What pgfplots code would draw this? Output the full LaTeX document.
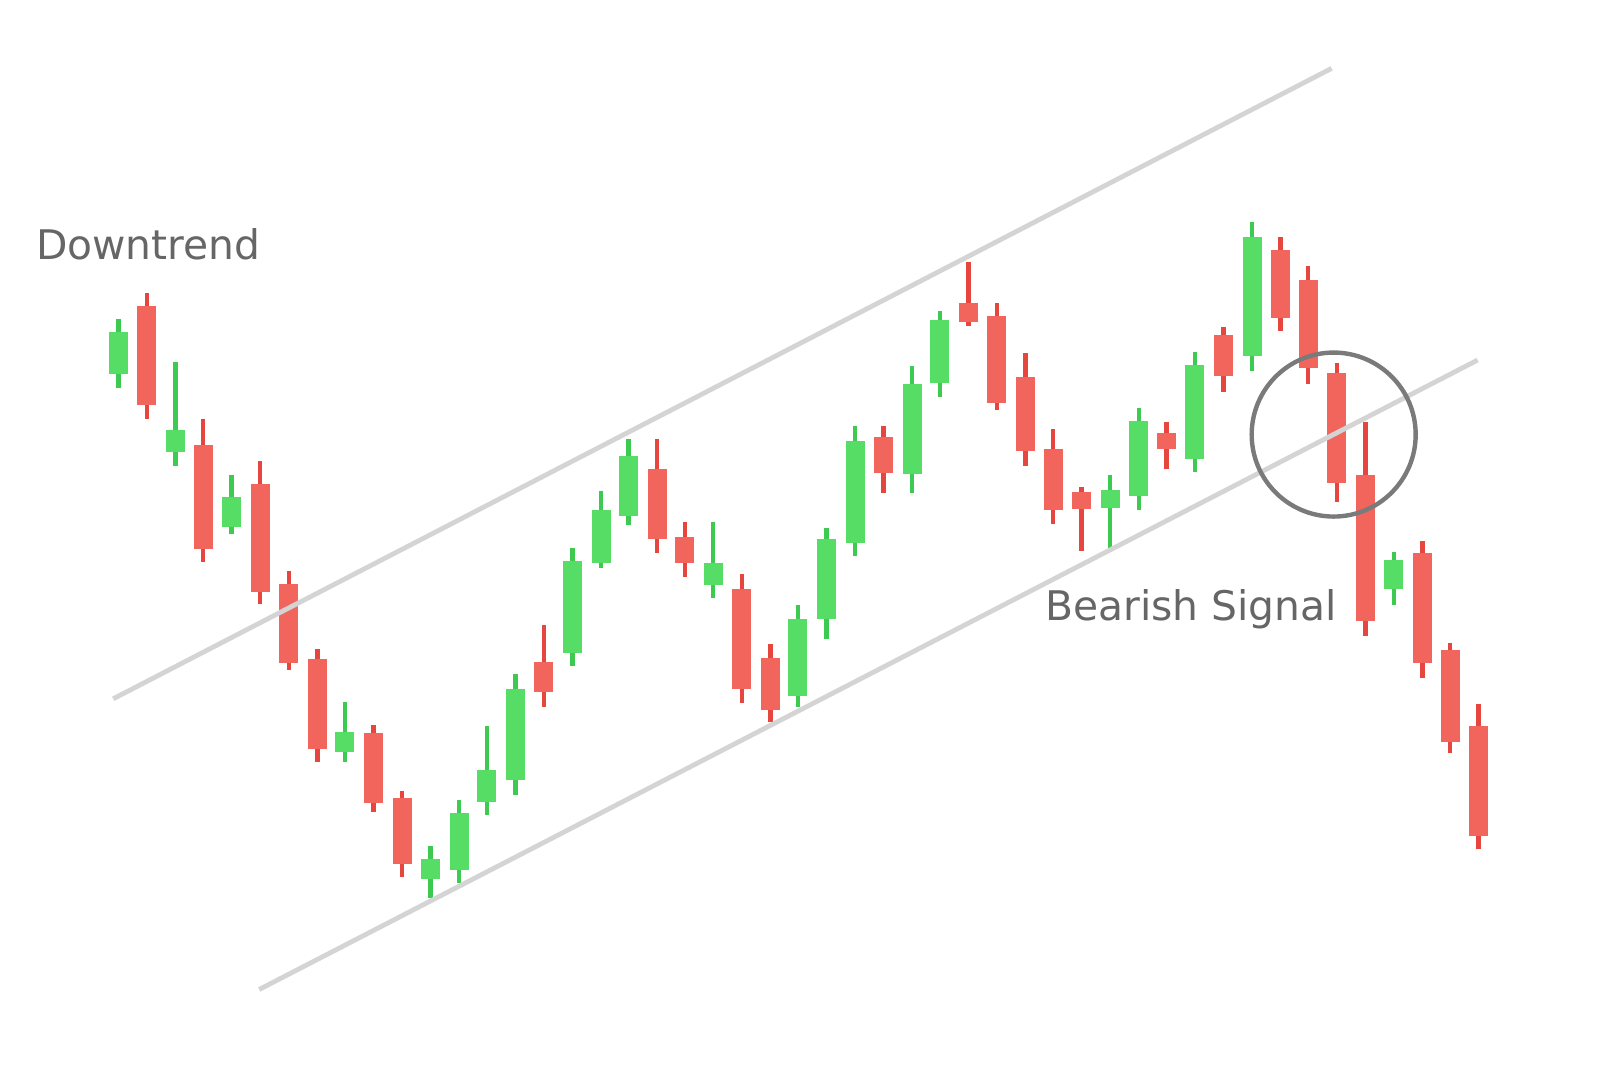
\documentclass[border=0pt]{standalone}
\usepackage{pgfplots}
\pgfplotsset{compat=1.18}
\usepackage{pgfplotstable}
\usepackage{fontspec}
\setmainfont{DejaVu Sans}

\definecolor{upbody}{HTML}{55DD66}
\definecolor{upwick}{HTML}{3CCB50}
\definecolor{dnbody}{HTML}{F2655C}
\definecolor{dnwick}{HTML}{E6463D}
\definecolor{chan}{HTML}{D4D4D4}
\definecolor{txt}{HTML}{666666}

% candles in picture units (y grows downwards): wick top/bottom, body top/bottom
\pgfplotstableread{
x    wt   wb   bt   bb
116  313  380  325  367
172  355  457  422  443
227  466  523  487  517
338  688  747  718  737
422  829  880  842  862
450  784  866  797  853
477  712  799  755  786
505  661  779  675  765
561  537  653  550  640
589  481  557  500  552
616  430  515  447  506
699  512  586  552  573
782  593  693  607  682
810  518  626  528  607
838  418  545  432  532
894  359  483  376  465
921  305  389  314  375
1088 466  537  480  498
1116 400  500  413  486
1171 345  463  358  450
1227 218  364  232  349
1366 541  593  549  577
}\up

\pgfplotstableread{
x    wt   wb   bt   bb
144  287  411  300  397
199  411  551  436  538
255  452  592  474  580
283  560  657  572  650
311  636  747  646  734
366  711  796  719  787
394  775  860  782  847
533  613  693  649  678
644  430  542  460  528
671  512  566  526  552
727  563  689  577  675
755  631  708  645  696
866  418  483  428  464
949  257  320  297  316
977  297  402  310  395
1005 346  457  370  442
1032 421  514  440  500
1060 477  540  482  499
1143 414  460  424  440
1199 321  384  328  369
1255 232  324  245  312
1282 261  376  274  361
1310 356  492  366  473
1338 414  623  466  609
1394 530  665  542  650
1421 630  738  637  727
1449 690  832  712  820
}\down

\pgfplotsset{
  wick/.style={draw=none, mark=none,
    error bars/.cd, y dir=both, y explicit, error mark=none,
    error bar style={line width=2.2pt, draw=#1}},
  body/.style={draw=none, mark=none,
    error bars/.cd, y dir=both, y explicit, error mark=none,
    error bar style={line width=9.5pt, draw=#1}},
}

\begin{document}
\begin{tikzpicture}
\begin{axis}[
  name=ax,
  width=800pt, height=533pt, scale only axis,
  xmin=0, xmax=1568, ymin=0, ymax=1045,
  y dir=reverse,
  hide axis, clip=false,
]
% wicks
\addplot[wick=upwick] table[x=x, y expr={(\thisrow{wt}+\thisrow{wb})/2},
  y error plus expr={(\thisrow{wb}-\thisrow{wt})/2},
  y error minus expr={(\thisrow{wb}-\thisrow{wt})/2}] {\up};
\addplot[wick=dnwick] table[x=x, y expr={(\thisrow{wt}+\thisrow{wb})/2},
  y error plus expr={(\thisrow{wb}-\thisrow{wt})/2},
  y error minus expr={(\thisrow{wb}-\thisrow{wt})/2}] {\down};
% bodies
\addplot[body=upbody] table[x=x, y expr={(\thisrow{bt}+\thisrow{bb})/2},
  y error plus expr={(\thisrow{bb}-\thisrow{bt})/2},
  y error minus expr={(\thisrow{bb}-\thisrow{bt})/2}] {\up};
\addplot[body=dnbody] table[x=x, y expr={(\thisrow{bt}+\thisrow{bb})/2},
  y error plus expr={(\thisrow{bb}-\thisrow{bt})/2},
  y error minus expr={(\thisrow{bb}-\thisrow{bt})/2}] {\down};

% channel
\addplot[chan, line width=2.4pt] coordinates {(111,685) (1305,67)};
\addplot[chan, line width=2.4pt] coordinates {(254,970) (1448,353)};

% breakout mark
\draw[color=black!52, line width=2.2pt] (axis cs:1307,426) circle[radius=41pt];

\node[anchor=base west, inner sep=0pt, text=txt, font=\fontsize{20.4}{24}\selectfont]
  at (axis cs:35,254) {Downtrend};
\node[anchor=base west, inner sep=0pt, text=txt, font=\fontsize{20.4}{24}\selectfont]
  at (axis cs:1024,608) {Bearish Signal};
\end{axis}
\pgfresetboundingbox
\path[use as bounding box] (ax.south west) rectangle (ax.north east);
\end{tikzpicture}
\end{document}
